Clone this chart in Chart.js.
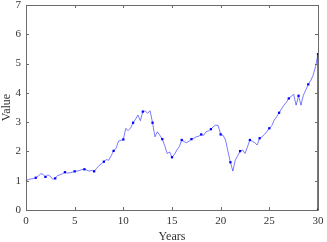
<!DOCTYPE html>
<html>
<head>
<meta charset="utf-8">
<script src="https://cdn.jsdelivr.net/npm/chart.js@4"></script>
<style>
  html, body { margin: 0; padding: 0; background: #fff; }
  #wrap { width: 327px; height: 242px; }
</style>
</head>
<body>
<div id="wrap"><canvas id="chart"></canvas></div>
<script>
// ===== DATA =====
// quarterly values, years 0 .. 30 (markers every year)
const values = [
  1.00, 1.04, 1.06, 1.07,
  1.10, 1.15, 1.24, 1.22,
  1.13, 1.20, 1.15, 1.05,
  1.08, 1.18, 1.20, 1.24,
  1.29, 1.26, 1.27, 1.29,
  1.32, 1.33, 1.35, 1.38,
  1.39, 1.36, 1.33, 1.35,
  1.32, 1.42, 1.52, 1.58,
  1.65, 1.72, 1.70, 1.85,
  2.02, 2.10, 2.35, 2.38,
  2.41, 2.79, 2.71, 2.80,
  2.98, 3.10, 3.24, 3.05,
  3.36, 3.38, 3.30, 3.39,
  2.98, 2.50, 2.67, 2.55,
  2.42, 2.20, 1.93, 1.98,
  1.80, 1.90, 2.05, 2.16,
  2.39, 2.33, 2.30, 2.35,
  2.42, 2.45, 2.50, 2.52,
  2.58, 2.55, 2.67, 2.70,
  2.76, 2.85, 2.90, 2.88,
  2.58, 2.55, 2.39, 2.00,
  1.63, 1.33, 1.70, 1.85,
  2.01, 2.05, 1.93, 2.15,
  2.39, 2.35, 2.30, 2.22,
  2.45, 2.50, 2.58, 2.68,
  2.79, 2.88, 3.07, 3.18,
  3.32, 3.45, 3.58, 3.68,
  3.81, 3.88, 3.95, 3.58,
  3.90, 3.58, 3.92, 4.10,
  4.29, 4.42, 4.60, 4.90,
  5.32
];
const stepYears = 0.25;
// last sample drops back to zero at the end
const endPoint = { x: 30, y: 0 };
const xTicks = [0, 5, 10, 15, 20, 25, 30];
const yTicks = [0, 1, 2, 3, 4, 5, 6, 7];

const points = values.map((v, i) => ({ x: i * stepYears, y: v }));
points.push(endPoint);

const FONT = 'Liberation Serif';

// box + inward ticks like matlab axes
const boxPlugin = {
  id: 'box',
  afterDraw(chart) {
    const { ctx, chartArea: a, scales } = chart;
    ctx.save();
    ctx.strokeStyle = '#6b6b6b';
    ctx.lineWidth = 1;
    ctx.beginPath();
    ctx.rect(Math.round(a.left) + 0.5, Math.round(a.top) + 0.5,
      Math.round(a.right - a.left), Math.round(a.bottom - a.top));
    const len = 3;
    xTicks.forEach(t => {
      const x = Math.round(scales.x.getPixelForValue(t)) + 0.5;
      ctx.moveTo(x, a.bottom); ctx.lineTo(x, a.bottom - len);
      ctx.moveTo(x, a.top); ctx.lineTo(x, a.top + len);
    });
    yTicks.forEach(t => {
      const y = Math.round(scales.y.getPixelForValue(t)) + 0.5;
      ctx.moveTo(a.left, y); ctx.lineTo(a.left + len, y);
      ctx.moveTo(a.right, y); ctx.lineTo(a.right - len, y);
    });
    ctx.stroke();
    ctx.restore();
  }
};

const lastIdx = points.length - 1;

new Chart(document.getElementById('chart'), {
  type: 'line',
  data: {
    datasets: [{
      data: points,
      borderColor: 'rgba(0,0,255,0.65)',
      borderWidth: 0.8,
      tension: 0,
      pointStyle: 'rect',
      pointRadius: c => (c.index % 4 === 0 || c.index === lastIdx) ? 1.6 : 0,
      pointBackgroundColor: '#0000ff',
      pointBorderWidth: 0,
    }]
  },
  options: {
    responsive: true,
    maintainAspectRatio: false,
    animation: false,
    layout: { padding: { top: 5, right: 9, left: 0, bottom: 0 } },
    plugins: { legend: { display: false }, tooltip: { enabled: false } },
    scales: {
      x: {
        type: 'linear',
        min: 0, max: 30,
        afterFit: s => { s.height = 32; s.paddingRight = 0; s.paddingLeft = 0; },
        afterBuildTicks: s => { s.ticks = xTicks.map(v => ({ value: v })); },
        grid: { display: false, drawTicks: false },
        border: { display: false },
        ticks: { color: '#333', padding: 5, font: { family: FONT, size: 11 }, maxRotation: 0 },
        title: { display: true, text: 'Years', color: '#333', padding: { top: 0, bottom: -2 },
                 font: { family: FONT, size: 12 } }
      },
      y: {
        min: 0, max: 7,
        afterFit: s => { s.width = 26; s.paddingTop = 0; s.paddingBottom = 0; },
        afterBuildTicks: s => { s.ticks = yTicks.map(v => ({ value: v })); },
        grid: { display: false, drawTicks: false },
        border: { display: false },
        ticks: { color: '#333', padding: 5, font: { family: FONT, size: 11 } },
        title: { display: true, text: 'Value', color: '#333', padding: { top: 0, bottom: 0 },
                 font: { family: FONT, size: 12 } }
      }
    }
  },
  plugins: [boxPlugin]
});
</script>
</body>
</html>
